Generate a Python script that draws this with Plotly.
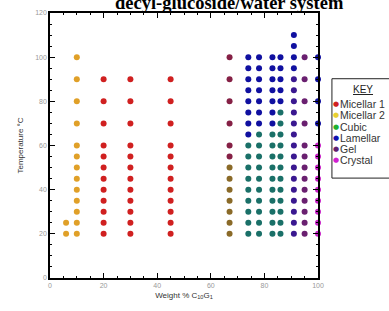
import plotly.graph_objects as go

# Phase-diagram sample points: (label, colour, columns (weight %), temperatures)
m1_cols = [20, 30, 45]
m1_temps = [20, 25, 30, 35, 40, 45, 50, 55, 60, 70, 80, 90]

m12_col_a = [6]
m12_temps_a = [20, 25]
m12_col_b = [10]
m12_temps_b = [20, 25, 30, 35, 40, 45, 50, 55, 60, 70, 80, 90, 100]

m1gel_cols = [67]
m1gel_temps = [55, 60, 70, 80, 90, 100]
m1cub_cols = [67]
m1cub_temps = [20, 25, 30, 35, 40, 45, 50]

lam_points = {
    74: [65, 70, 75, 80, 85, 90, 95, 100],
    78: [70, 75, 80, 85, 90, 95, 100],
    83: [70, 75, 80, 85, 90, 95, 100],
    86: [80, 85, 90, 95, 100],
    91: [95, 100, 105, 110],
    100: [70, 80, 90, 100],
}
cublam_points = {
    74: [20, 25, 30, 35, 40, 45, 50, 55, 60],
    78: [20, 25, 30, 35, 40, 45, 50, 55, 60, 65],
    83: [20, 25, 30, 35, 40, 45, 50, 55, 60, 65],
    86: [20, 25, 30, 35, 40, 45, 50, 55, 60, 65, 70, 75],
}
lamgel_cols = [91]
lamgel_temps = [20, 25, 30, 35, 40, 45, 50, 55, 60, 65, 70, 75, 80, 85, 90]
gel_cols = [95]
gel_temps = [20, 25, 30, 35, 40, 45, 50, 55, 60, 70, 80, 90, 100]
cry_cols = [100]
cry_temps = [20, 25, 30, 35, 40, 45, 50, 55, 60]

legend_names = ["Micellar 1", "Micellar 2", "Cubic", "Lamellar", "Gel", "Crystal"]
legend_colors = ["#d02020", "#e8d030", "#20b030", "#1010b0", "#602070", "#d020d0"]


def grid(cols, temps):
    xs, ys = [], []
    for c in cols:
        for t in temps:
            xs.append(c)
            ys.append(t)
    return xs, ys


def from_dict(d):
    xs, ys = [], []
    for c, ts in d.items():
        for t in ts:
            xs.append(c)
            ys.append(t)
    return xs, ys


series = []
series.append(("Micellar 1", "#d02020") + grid(m1_cols, m1_temps))
xa, ya = grid(m12_col_a, m12_temps_a)
xb, yb = grid(m12_col_b, m12_temps_b)
series.append(("M1+M2", "#e0a028", xa + xb, ya + yb))
series.append(("M1+Gel", "#852045") + grid(m1gel_cols, m1gel_temps))
series.append(("M1+Cubic", "#8a6a28") + grid(m1cub_cols, m1cub_temps))
series.append(("Lamellar", "#1010a0") + from_dict(lam_points))
series.append(("Cubic+Lamellar", "#1a7068") + from_dict(cublam_points))
series.append(("Lamellar+Gel", "#3a1890") + grid(lamgel_cols, lamgel_temps))
series.append(("Gel", "#6a2070") + grid(gel_cols, gel_temps))
series.append(("Crystal", "#c820c8") + grid(cry_cols, cry_temps))

fig = go.Figure()
for name, color, xs, ys in series:
    fig.add_trace(go.Scatter(
        x=xs, y=ys, mode="markers", name=name, showlegend=False,
        cliponaxis=False,
        marker=dict(size=6, color=color, line=dict(width=0)),
    ))

axis_common = dict(
    showline=True, linecolor="black", linewidth=1.5, mirror="allticks",
    ticks="inside", ticklen=5, tickwidth=1.2, tickcolor="black",
    showgrid=False, zeroline=False,
    tickfont=dict(family="Arial", size=7, color="#999999"),
    minor=dict(ticks="inside", ticklen=2.5, tickcolor="black", dtick=5, tickwidth=1),
)

fig.update_xaxes(range=[0, 100], dtick=20, **axis_common,
                 title=dict(text="Weight % C<sub>10</sub>G<sub>1</sub>",
                            font=dict(family="Arial", size=8, color="#333333"), standoff=4))
fig.update_yaxes(range=[0, 120], dtick=20, **axis_common,
                 title=dict(text="Temperature °C",
                            font=dict(family="Arial", size=8, color="#333333"), standoff=10))

# Title (cut off at top as in the original)
fig.add_annotation(
    text="<b>decyl-glucoside/water system</b>",
    xref="paper", yref="paper", x=0.668, y=1, xanchor="center", yanchor="middle",
    yshift=10, showarrow=False,
    font=dict(family="Liberation Serif", size=18.5, color="black"),
)

# KEY box (legend drawn manually)
fig.add_shape(type="rect", xref="paper", yref="paper",
              x0=1.052, x1=1.35, y0=0.377, y1=0.752,
              line=dict(color="#222222", width=1), fillcolor="white", layer="above")
fig.add_annotation(text="<u>KEY</u>", xref="paper", yref="paper", x=1.168, y=0.710,
                   xanchor="center", yanchor="middle", showarrow=False,
                   font=dict(family="Arial", size=10, color="#222222"))
entry_top = 0.656
entry_step = 0.0425
for i, (name, color) in enumerate(zip(legend_names, legend_colors)):
    yy = entry_top - i * entry_step
    fig.add_annotation(text="●", xref="paper", yref="paper", x=1.067, y=yy,
                       xanchor="center", yanchor="middle", showarrow=False,
                       font=dict(family="DejaVu Sans", size=7, color=color))
    fig.add_annotation(text=name, xref="paper", yref="paper", x=1.076, y=yy,
                       xanchor="left", yanchor="middle", showarrow=False,
                       font=dict(family="Arial", size=10.5, color="#333333"))

fig.update_layout(
    width=389, height=311,
    margin=dict(l=50, r=71, t=13, b=33, autoexpand=False),
    paper_bgcolor="white", plot_bgcolor="white",
    showlegend=False,
)

fig.write_html("out.html", config={"displayModeBar": False},
               post_script="document.body.style.margin='0';")
